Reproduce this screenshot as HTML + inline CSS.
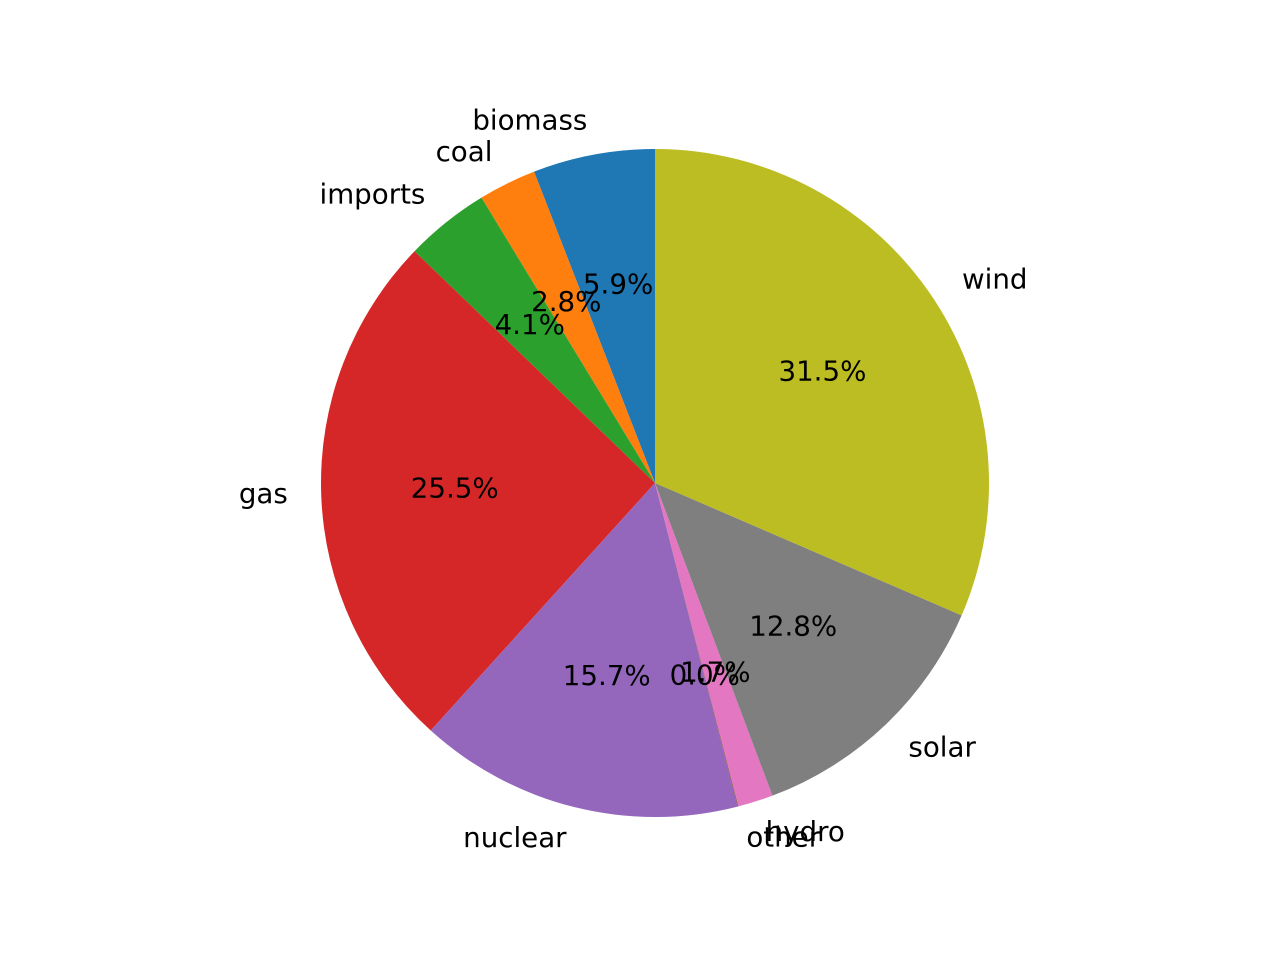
<!DOCTYPE html>
<html><head><meta charset="utf-8"><style>
html,body{margin:0;padding:0;background:#fff;}
svg text{font-family:"DejaVu Sans","Liberation Sans",sans-serif;font-size:27.7px;fill:#000;}
</style></head><body>
<svg id="chart" width="1280" height="960" xmlns="http://www.w3.org/2000/svg"><g id="slices"></g><g id="labels"></g></svg>
<script>
const categories=["biomass","coal","imports","gas","nuclear","other","hydro","solar","wind"];
const values=[5.9,2.8,4.1,25.5,15.7,0.04,1.7,12.8,31.5];
const pctLabels=["5.9%","2.8%","4.1%","25.5%","15.7%","0.0%","1.7%","12.8%","31.5%"];
const colors=["#1f77b4","#ff7f0e","#2ca02c","#d62728","#9467bd","#8c564b","#e377c2","#7f7f7f","#bcbd22"];
const NS="http://www.w3.org/2000/svg";
const gS=document.getElementById('slices'),gL=document.getElementById('labels');
const cx=655,cy=483,R=334;
const total=values.reduce((a,b)=>a+b,0);
function pt(deg,r){const a=deg*Math.PI/180;return [cx+r*Math.cos(a),cy-r*Math.sin(a)];}
let start=90;
categories.forEach((c,i)=>{
  const sweep=values[i]/total*360;
  const end=start+sweep;
  const [x1,y1]=pt(start,R),[x2,y2]=pt(end,R);
  const p=document.createElementNS(NS,'path');
  p.setAttribute('d',`M${cx},${cy} L${x1},${y1} A${R},${R} 0 ${sweep>180?1:0} 0 ${x2},${y2} Z`);
  p.setAttribute('fill',colors[i]);
  
  
  gS.appendChild(p);
  const mid=(start+end)/2;
  const [lx,ly]=pt(mid,R*1.1);
  const t=document.createElementNS(NS,'text');
  t.setAttribute('x',lx);t.setAttribute('y',ly-2);
  t.setAttribute('text-anchor',lx>=cx?'start':'end');
  t.setAttribute('dominant-baseline','central');
  t.textContent=c;
  
  
  gL.appendChild(t);
  const [px,py]=pt(mid,R*0.6);
  const q=document.createElementNS(NS,'text');
  q.setAttribute('x',px);q.setAttribute('y',py-2);
  q.setAttribute('text-anchor','middle');
  q.setAttribute('dominant-baseline','central');
  q.textContent=pctLabels[i];
  
  
  gL.appendChild(q);
  start=end;
});
</script>
</body></html>
